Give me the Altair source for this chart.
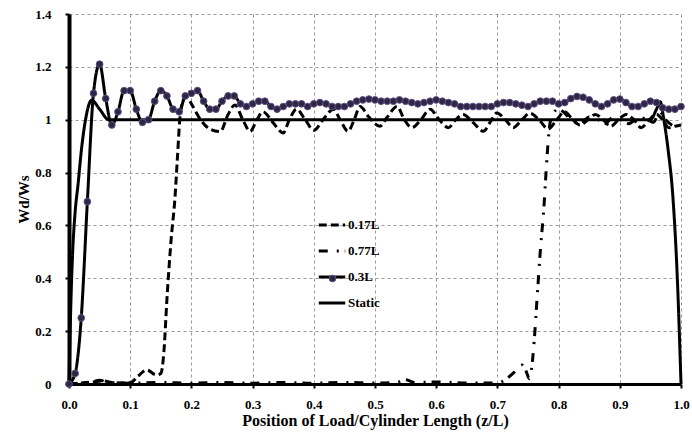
import altair as alt
import pandas as pd

# ---- data ----
grid_x = [i / 100 for i in range(101)]
y_03L = [0, 0.04, 0.25, 0.69, 1.10, 1.21, 1.08, 0.98, 1.03, 1.11,
         1.11, 1.04, 0.99, 1.00, 1.07, 1.11, 1.09, 1.04, 1.03, 1.09,
         1.10, 1.11, 1.07, 1.04, 1.04, 1.07, 1.09, 1.09, 1.06, 1.05,
         1.06, 1.07, 1.07, 1.05, 1.04, 1.05, 1.06, 1.06, 1.06, 1.05,
         1.06, 1.065, 1.06, 1.05, 1.05, 1.05, 1.06, 1.07, 1.075, 1.078,
         1.075, 1.07, 1.07, 1.07, 1.075, 1.07, 1.065, 1.06, 1.065, 1.07,
         1.075, 1.07, 1.065, 1.06, 1.05, 1.05, 1.05, 1.05, 1.05, 1.05,
         1.06, 1.065, 1.065, 1.06, 1.055, 1.05, 1.06, 1.07, 1.07, 1.07,
         1.06, 1.065, 1.08, 1.088, 1.085, 1.075, 1.06, 1.05, 1.06, 1.075,
         1.078, 1.065, 1.05, 1.05, 1.06, 1.07, 1.065, 1.045, 1.04, 1.04,
         1.05]

static_x = [0, 0.003, 0.006, 0.01, 0.015, 0.02, 0.027, 0.037, 0.05, 0.065, 0.08,
            0.95, 0.96, 0.966, 0.972, 0.979, 0.987, 0.994, 1.0]
static_y = [0, 0.3, 0.5, 0.65, 0.76, 0.88, 1.0, 1.074, 1.04, 1.0, 1.0,
            1.0, 1.04, 1.068, 1.0, 0.885, 0.7, 0.4, 0]

x_017L = [0, 0.02, 0.04, 0.055, 0.07, 0.085, 0.10, 0.113, 0.127, 0.143, 0.150,
          0.155, 0.160, 0.167, 0.173, 0.177, 0.181, 0.186, 0.192, 0.20, 0.215,
          0.23, 0.247, 0.26, 0.271, 0.284, 0.296, 0.307, 0.317, 0.333, 0.35,
          0.36, 0.372, 0.386, 0.40, 0.415, 0.432, 0.443, 0.456, 0.466, 0.4755,
          0.49, 0.508, 0.52, 0.536, 0.548, 0.560, 0.575, 0.590, 0.605, 0.620,
          0.632, 0.644, 0.66, 0.677, 0.688, 0.699, 0.713, 0.726, 0.74, 0.753,
          0.768, 0.783, 0.797, 0.81, 0.823, 0.835, 0.848, 0.86, 0.873, 0.885,
          0.898, 0.91, 0.923, 0.935, 0.948, 0.96, 0.97, 0.98, 0.99, 1.0]
y_017L = [0, 0.004, 0.008, 0.012, 0.006, 0.004, 0.005, 0.03, 0.053, 0.034, 0.04,
          0.12, 0.32, 0.55, 0.70, 0.85, 1.0, 1.07, 1.088, 1.06, 1.0,
          0.965, 0.955, 1.02, 1.056, 1.0, 0.956, 1.0, 1.03, 0.99, 0.95,
          1.0, 1.04, 1.0, 0.96, 1.0, 1.04, 1.0, 0.956, 1.0, 1.05,
          1.01, 0.975, 1.01, 1.05, 1.0, 0.97, 1.0, 1.04, 1.0, 0.97,
          1.0, 1.02, 0.99, 0.956, 0.99, 1.025, 1.0, 0.97, 1.0, 1.025,
          1.0, 0.965, 1.0, 1.03, 1.0, 0.98, 1.0, 1.02, 1.0, 0.975,
          1.0, 1.02, 1.0, 0.97, 1.0, 1.02, 1.0, 0.97, 0.975, 0.98]

x_077L = [0, 0.03, 0.05, 0.065, 0.1, 0.15, 0.2, 0.25, 0.3, 0.35, 0.4, 0.45, 0.5,
          0.535, 0.55, 0.565, 0.6, 0.65, 0.7, 0.715, 0.73, 0.74, 0.745, 0.749,
          0.752, 0.756, 0.76, 0.765, 0.77, 0.776, 0.78, 0.785, 0.79, 0.80, 0.81,
          0.82, 0.835, 0.85, 0.865, 0.875, 0.89, 0.905, 0.915, 0.93, 0.945,
          0.955, 0.965, 0.975, 0.985, 1.0]
y_077L = [0, 0.004, 0.014, 0.006, 0.003, 0.006, 0.003, 0.006, 0.003, 0.006, 0.003,
          0.006, 0.004, 0.006, 0.016, 0.006, 0.008, 0.004, 0.004, 0.02, 0.05, 0.072,
          0.06, 0.035, 0.02, 0.06, 0.16, 0.33, 0.5, 0.67, 0.82, 0.97, 1.02, 1.04,
          1.025, 1.0, 0.985, 1.01, 1.0, 0.985, 1.01, 0.995, 0.985, 1.01, 1.0,
          0.99, 1.03, 1.0, 0.98, 0.97]

series_names = ["0.17L", "0.77L", "0.3L", "Static"]
dashes = [[8, 4], [9, 9, 2, 6], [1, 0], [1, 0]]

rows = []
for n, xs, ys in [("0.17L", x_017L, y_017L), ("0.77L", x_077L, y_077L),
                  ("0.3L", grid_x, y_03L), ("Static", static_x, static_y)]:
    for i, (a, b) in enumerate(zip(xs, ys)):
        rows.append({"series": n, "x": a, "y": b, "i": i})
df = pd.DataFrame(rows)

FONT = "Liberation Serif"
MARK_FILL = "#2e2644"
MARK_STROKE = "#5d4f85"

xenc = alt.X("x:Q", scale=alt.Scale(domain=[0, 1], nice=False),
             axis=alt.Axis(values=[i / 10 for i in range(11)], format=".1f",
                           labelFlush=False,
                           title="Position of  Load/Cylinder Length (z/L)",
                           titlePadding=1))
yenc = alt.Y("y:Q", scale=alt.Scale(domain=[0, 1.4], nice=False),
             axis=alt.Axis(values=[0, 0.2, 0.4, 0.6, 0.8, 1.0, 1.2, 1.4], format="~g",
                           labelFlush=False,
                           title="Wd/Ws", titlePadding=3, labelPadding=14,
                           titleFontSize=15, domainWidth=4))

lines = alt.Chart(df).mark_line(color="black", strokeWidth=3, interpolate="monotone").encode(
    x=xenc, y=yenc,
    order="i:Q",
    strokeDash=alt.StrokeDash("series:N",
        scale=alt.Scale(domain=series_names, range=dashes),
        legend=alt.Legend(title=None, orient="none", legendX=248, legendY=196,
                          symbolType="stroke", symbolSize=700, symbolStrokeWidth=3,
                          symbolStrokeColor="black", rowPadding=4,
                          labelFont=FONT, labelFontWeight="bold", labelFontSize=13,
                          labelColor="black", labelOffset=1)),
)

points = alt.Chart(df).transform_filter(alt.datum.series == "0.3L").mark_point(
    filled=True, size=45, stroke=MARK_STROKE, strokeWidth=1, opacity=1
).encode(
    x="x:Q", y="y:Q",
    fill=alt.Fill("series:N", scale=alt.Scale(domain=["0.3L"], range=[MARK_FILL]),
                  legend=alt.Legend(title=None, orient="none", legendX=257, legendY=258,
                                    symbolType="circle", symbolSize=45,
                                    symbolStrokeColor=MARK_STROKE, symbolStrokeWidth=1,
                                    labelExpr="''", labelFontSize=13)),
)

chart = alt.layer(lines, points).properties(
    width=612, height=370,
    autosize=alt.AutoSizeParams(type="none"),
    padding={"left": 69, "top": 14, "right": 11, "bottom": 57},
).configure_view(stroke=None).configure_axis(
    labelFont=FONT, labelFontWeight="bold", labelFontSize=13, labelColor="black",
    titleFont=FONT, titleFontWeight="bold", titleFontSize=16, titleColor="black",
    gridColor="#9a9a9a", gridDash=[3, 3], gridWidth=1,
    domainColor="black", domainWidth=3, tickColor="black", tickWidth=2, tickSize=4,
).configure_axisX(labelPadding=10)

chart.save("out.html", embed_options={"renderer": "svg", "actions": False})
